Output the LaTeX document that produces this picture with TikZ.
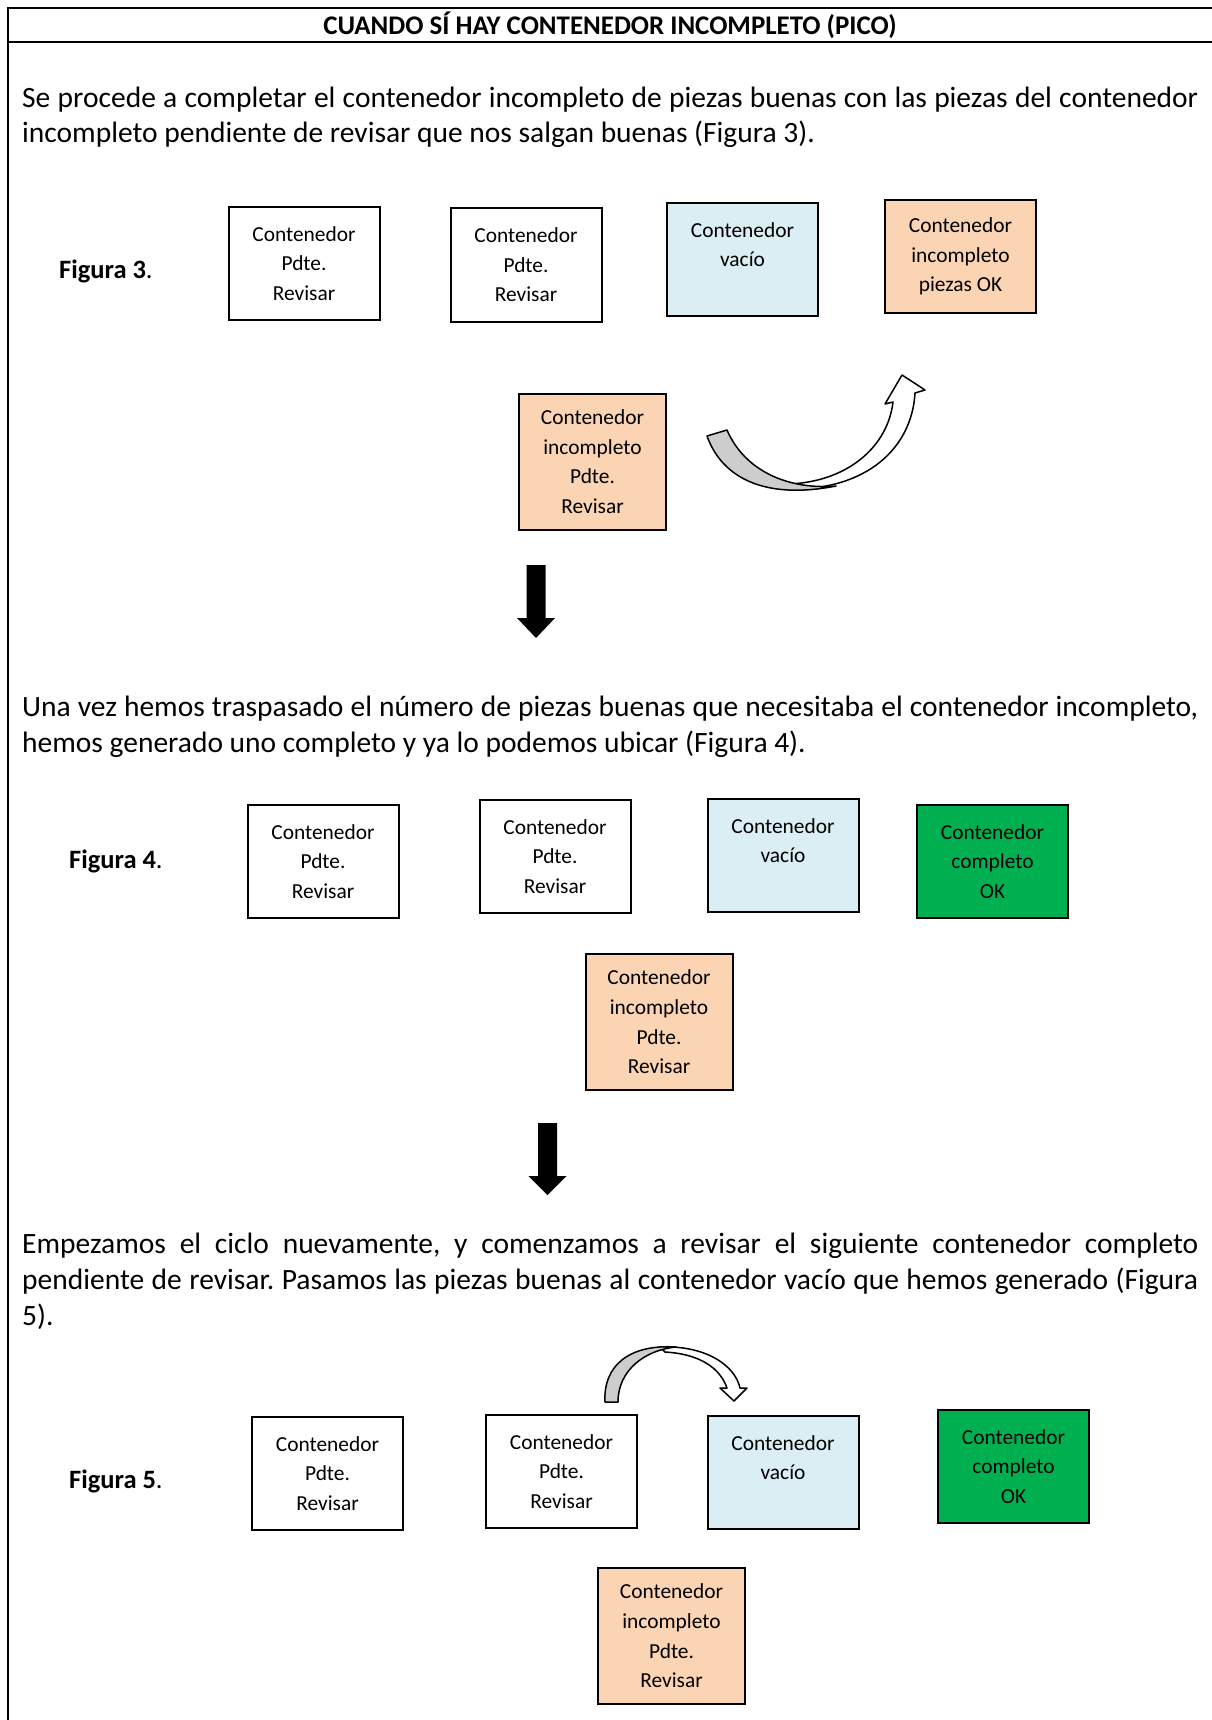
\documentclass[tikz,border=0pt]{standalone}
\usepackage{fontspec}
\setmainfont{Carlito}
\frenchspacing
\definecolor{peach}{HTML}{FBD4B4}
\definecolor{paleblue}{HTML}{DAEEF3}
\definecolor{okgreen}{HTML}{00B050}
\definecolor{bandgray}{HTML}{CDCDCD}
% one justified line of body text, spaces stretched to the full measure
\newcommand\jline[1]{\makebox[1176pt][s]{#1}}
\begin{document}
\begin{tikzpicture}[x=1pt,y=-1pt,
  box/.style={draw=black, line width=2pt, inner sep=0pt, align=center,
    font=\fontsize{21.4}{29.6}\selectfont, minimum width=151pt, minimum height=113pt},
  tallbox/.style={box, fill=peach, minimum width=147pt, minimum height=136pt},
  body/.style={anchor=base west, inner sep=0pt, font=\fontsize{29.5}{36}\selectfont},
  figlabel/.style={anchor=base west, inner sep=0pt, font=\fontsize{26.5}{32}\selectfont},
  band/.style={draw=black, line width=1.5pt, line join=round},
  blockarrow/.style={fill=black},
  frame/.style={line width=2.5pt}
]
\useasboundingbox (0,0) rectangle (1211,1720);

% table frame and header
\draw[frame] (1213,8) -- (8,8) -- (8,1722);
\draw[frame] (8,42) -- (1213,42);
\node[anchor=base, inner sep=0pt, font=\fontsize{26.9}{32}\selectfont\bfseries] (title) at (610,35)
  {CUANDO SÍ HAY CONTENEDOR INCOMPLETO (PICO)};

% first paragraph
\node[body] (p1a) at (22,108) {\jline{Se procede a completar el contenedor incompleto de piezas buenas con las piezas del contenedor}};
\node[body] (p1b) at (22,143) {incompleto pendiente de revisar que nos salgan buenas (Figura 3).};

% Figura 3
\node[figlabel] (f3) at (59,278) {\textbf{Figura 3}.};
\node[box] (f3a) at (304,263.5) {Contenedor\\Pdte.\\Revisar};
\node[box] (f3b) at (526,265) {Contenedor\\Pdte.\\Revisar};
\node[box, fill=paleblue] (f3c) at (742.5,259.5) {Contenedor\\vacío\\\phantom{Revisar}};
\node[box, fill=peach] (f3d) at (960.5,256.5) {Contenedor\\incompleto\\piezas OK};
\node[tallbox] (f3e) at (592.5,461.5) {Contenedor\\incompleto\\Pdte.\\Revisar};

% curved transfer arrow of Figura 3
\draw[band, fill=white] (790,484) .. controls (850,481) and (888,445) .. (893,402)
  -- (885,404) -- (902,375) -- (925,390) -- (915,393)
  .. controls (912,447) and (868,490) .. (790,489) -- cycle;
\draw[band, fill=bandgray] (707,436) .. controls (722,478) and (765,500) .. (836,486)
  .. controls (790,490) and (745,472) .. (727,430) -- cycle;

% down arrow
\fill[blockarrow] (526.5,565) -- (545.5,565) -- (545.5,618) -- (555,618) -- (536,638)
  -- (517,618) -- (526.5,618) -- cycle;

% second paragraph
\node[body] (p2a) at (22,716) {\jline{Una vez hemos traspasado el número de piezas buenas que necesitaba el contenedor incompleto,}};
\node[body] (p2b) at (22,752) {hemos generado uno completo y ya lo podemos ubicar (Figura 4).};

% Figura 4
\node[figlabel] (f4) at (69,868) {\textbf{Figura 4}.};
\node[box] (f4a) at (323,861.5) {Contenedor\\Pdte.\\Revisar};
\node[box] (f4b) at (555,856.5) {Contenedor\\Pdte.\\Revisar};
\node[box, fill=paleblue] (f4c) at (783,855.5) {Contenedor\\vacío\\\phantom{Revisar}};
\node[box, fill=okgreen] (f4d) at (992.5,861.5) {Contenedor\\completo\\OK};
\node[tallbox] (f4e) at (659,1022) {Contenedor\\incompleto\\Pdte.\\Revisar};

% down arrow
\fill[blockarrow] (538,1123) -- (557,1123) -- (557,1176) -- (566.5,1176) -- (547.5,1195)
  -- (528.5,1176) -- (538,1176) -- cycle;

% third paragraph
\node[body] (p3a) at (22,1253) {\jline{Empezamos el ciclo nuevamente, y comenzamos a revisar el siguiente contenedor completo}};
\node[body] (p3b) at (22,1289) {\jline{pendiente de revisar. Pasamos las piezas buenas al contenedor vacío que hemos generado (Figura}};
\node[body] (p3c) at (22,1325.5) {5).};

% Figura 5
\node[figlabel] (f5) at (69,1488) {\textbf{Figura 5}.};
\node[box] (f5a) at (327.5,1473.5) {Contenedor\\Pdte.\\Revisar};
\node[box] (f5b) at (561.5,1471.5) {Contenedor\\Pdte.\\Revisar};
\node[box, fill=paleblue] (f5c) at (783,1472.5) {Contenedor\\vacío\\\phantom{Revisar}};
\node[box, fill=okgreen] (f5d) at (1013.5,1466.5) {Contenedor\\completo\\OK};
\node[tallbox] (f5e) at (671.5,1636) {Contenedor\\incompleto\\Pdte.\\Revisar};

% curved transfer arrow of Figura 5
\draw[band, fill=white] (660,1347) .. controls (705,1345) and (735,1365) .. (740,1388)
  -- (747,1388) -- (734,1401) -- (720,1388) -- (727,1388)
  .. controls (720,1368) and (700,1354) .. (665,1352) -- cycle;
\draw[band, fill=bandgray] (605,1402) .. controls (603,1365) and (630,1344) .. (676,1347)
  .. controls (645,1350) and (618,1370) .. (618,1402) -- cycle;
\end{tikzpicture}
\end{document}
